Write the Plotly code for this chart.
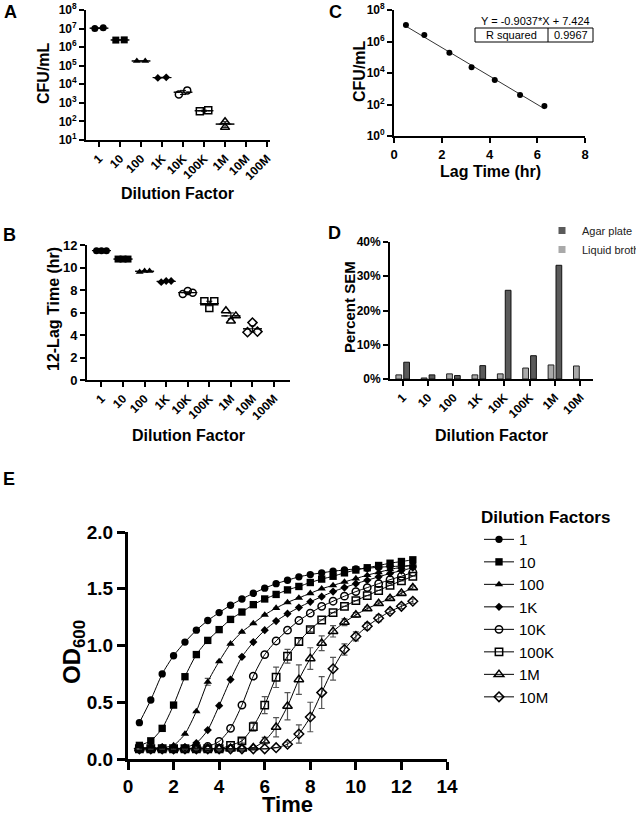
import numpy as np
import plotly.graph_objects as go

W, H = 636, 819
FONT = "Liberation Sans, Arial, Helvetica, sans-serif"

# ---------------- data ----------------
# Panel A : CFU/mL on agar plates (two replicate plates per dilution)
dilution_labels = ["1", "10", "100", "1K", "10K", "100K", "1M", "10M", "100M"]
cfu_rep1 = [1.0e7, 2.40e6, 1.78e5, 2.20e4, 2.8e3, 3.5e2, 96]
cfu_rep2 = [1.1e7, 2.46e6, 1.82e5, 2.38e4, 4.7e3, 4.0e2, 48]

# Panel B : 12 - lag time (three replicate wells per dilution)
lag12_rep1 = [11.5, 10.75, 9.6, 8.7, 7.65, 7.0, 6.15, 4.25]
lag12_rep2 = [11.5, 10.75, 9.7, 8.8, 7.9, 6.4, 5.25, 5.1]
lag12_rep3 = [11.5, 10.75, 9.7, 8.8, 7.75, 7.0, 5.7, 4.3]

# Panel C : CFU/mL vs lag time with log-linear fit
lag_time_hr = [0.5, 1.27, 2.32, 3.25, 4.22, 5.28, 6.3]
cfu_mean = [1.12e7, 2.57e6, 1.95e5, 2.29e4, 3.63e3, 398, 79]
fit_slope = -0.9037
fit_intercept = 7.424
r_squared = 0.9967

# Panel D : percent SEM
sem_labels = ["1", "10", "100", "1K", "10K", "100K", "1M", "10M"]
sem_agar = [4.9, 1.2, 1.0, 3.9, 25.9, 6.8, 33.2, None]
sem_broth = [1.2, 0.3, 1.5, 1.2, 1.5, 3.2, 4.1, 3.8]
sem_ticks = [0, 10, 20, 30, 40]

# Panel E : growth curves (OD600)
time_hr = [0.5, 1.0, 1.5, 2.0, 2.5, 3.0, 3.5, 4.0, 4.5, 5.0, 5.5, 6.0, 6.5,
           7.0, 7.5, 8.0, 8.5, 9.0, 9.5, 10.0, 10.5, 11.0, 11.5, 12.0, 12.5]
od_1 = [0.32, 0.52, 0.75, 0.91, 1.03, 1.135, 1.22, 1.29, 1.355, 1.41, 1.46, 1.505, 1.545,
        1.575, 1.605, 1.625, 1.64, 1.655, 1.665, 1.675, 1.68, 1.69, 1.695, 1.70, 1.705]
od_10 = [0.12, 0.16, 0.27, 0.475, 0.725, 0.92, 1.045, 1.14, 1.23, 1.295, 1.36, 1.41, 1.45,
         1.49, 1.52, 1.555, 1.585, 1.61, 1.64, 1.665, 1.685, 1.705, 1.725, 1.74, 1.755]
od_100 = [0.10, 0.10, 0.10, 0.12, 0.22, 0.42, 0.68, 0.86, 1.015, 1.12, 1.195, 1.27, 1.33,
          1.38, 1.42, 1.46, 1.50, 1.53, 1.56, 1.59, 1.62, 1.645, 1.67, 1.69, 1.71]
od_1K = [0.09, 0.09, 0.09, 0.09, 0.10, 0.14, 0.255, 0.47, 0.70, 0.90, 1.03, 1.135, 1.215,
         1.28, 1.335, 1.385, 1.43, 1.475, 1.51, 1.545, 1.575, 1.605, 1.635, 1.66, 1.685]
od_10K = [0.09, 0.09, 0.09, 0.09, 0.09, 0.10, 0.11, 0.155, 0.27, 0.475, 0.73, 0.92, 1.04,
          1.135, 1.22, 1.285, 1.345, 1.39, 1.435, 1.475, 1.51, 1.545, 1.58, 1.61, 1.645]
od_100K = [0.09, 0.09, 0.09, 0.09, 0.09, 0.09, 0.09, 0.09, 0.12, 0.16, 0.285, 0.475, 0.72,
           0.905, 1.035, 1.14, 1.225, 1.29, 1.345, 1.395, 1.44, 1.485, 1.53, 1.57, 1.61]
od_1M = [0.09, 0.09, 0.09, 0.09, 0.09, 0.09, 0.09, 0.09, 0.09, 0.09, 0.10, 0.16, 0.28,
         0.465, 0.70, 0.885, 1.02, 1.125, 1.205, 1.27, 1.325, 1.37, 1.415, 1.46, 1.51]
od_10M = [0.09, 0.09, 0.09, 0.09, 0.09, 0.09, 0.09, 0.09, 0.09, 0.09, 0.09, 0.09, 0.10,
          0.13, 0.22, 0.37, 0.585, 0.795, 0.965, 1.08, 1.17, 1.24, 1.30, 1.345, 1.39]
sem_od_100 = [0, 0, 0, 0, 0, 0, 0.03, 0, 0, 0, 0, 0, 0, 0, 0, 0, 0, 0, 0, 0, 0, 0, 0, 0, 0]
sem_od_100K = [0, 0, 0, 0, 0, 0, 0, 0, 0, 0.02, 0.04, 0.075, 0.09, 0.06, 0.03, 0.02, 0, 0, 0,
               0, 0, 0, 0, 0, 0]
sem_od_1M = [0, 0, 0, 0, 0, 0, 0, 0, 0, 0, 0, 0.03, 0.085, 0.12, 0.13, 0.095, 0.065, 0.05,
             0.03, 0.02, 0.015, 0.015, 0.015, 0.015, 0.015]
sem_od_10M = [0, 0, 0, 0, 0, 0, 0, 0, 0, 0, 0, 0, 0, 0.02, 0.08, 0.13, 0.14, 0.10, 0.05, 0.04,
              0.03, 0.03, 0.02, 0.02, 0.02]
curve_labels = ["1", "10", "100", "1K", "10K", "100K", "1M", "10M"]

# ---------------- styles ----------------
symbols = ["circle", "square", "triangle-up", "diamond",
           "circle-open", "square-open", "triangle-up-open", "diamond-open"]
sym_sizes = [7, 7, 7, 6, 7, 7, 8, 7]


def px_x(p):
    return p / W


def px_y(p):
    return 1 - p / H


def xd(a, b):
    return [px_x(a), px_x(b)]


def yd(top, bottom):
    return [px_y(bottom), px_y(top)]


def ax(lw=1.8, tl=5, tw=1.5, fs=12, **kw):
    d = dict(showline=True, linecolor="black", linewidth=lw, ticks="outside",
             ticklen=tl, tickwidth=tw, tickcolor="black", showgrid=False,
             zeroline=False, fixedrange=True, automargin=False,
             tickfont=dict(family=FONT, size=fs, color="black", weight="bold"))
    d.update(kw)
    return d


def marker_for(i, scale=1.0):
    open_ = "open" in symbols[i]
    return dict(symbol=symbols[i], size=sym_sizes[i] * scale, color="black",
                line=dict(color="black", width=1.5 if open_ else 0))


fig = go.Figure()

# ---------------- Panel A ----------------
for i in range(len(cfu_rep1)):
    vals = [cfu_rep1[i], cfu_rep2[i]]
    m = float(np.mean(vals))
    sem = float(np.std(vals, ddof=1) / np.sqrt(len(vals)))
    fig.add_trace(go.Scatter(
        x=[i - 0.3, i, i + 0.3], y=[m, m, m], mode="lines", xaxis="x", yaxis="y",
        line=dict(color="black", width=1), showlegend=False, hoverinfo="skip",
        error_y=dict(type="data", array=[0, sem, 0], color="black", thickness=1, width=3)))
    spread = abs(np.log10(vals[0]) - np.log10(vals[1]))
    offs = [-0.2, 0.2] if spread < 0.28 else [0.0, 0.0]
    fig.add_trace(go.Scatter(
        x=[i + o for o in offs], y=vals, mode="markers", xaxis="x", yaxis="y",
        marker=marker_for(i), showlegend=False))

# ---------------- Panel B ----------------
for i in range(len(lag12_rep1)):
    vals = [lag12_rep1[i], lag12_rep2[i], lag12_rep3[i]]
    m = float(np.mean(vals))
    sem = float(np.std(vals, ddof=1) / np.sqrt(len(vals)))
    fig.add_trace(go.Scatter(
        x=[i - 0.3, i, i + 0.3], y=[m, m, m], mode="lines", xaxis="x2", yaxis="y2",
        line=dict(color="black", width=1), showlegend=False, hoverinfo="skip",
        error_y=dict(type="data", array=[0, sem, 0], color="black", thickness=1, width=3)))
    fig.add_trace(go.Scatter(
        x=[i - 0.23, i, i + 0.23], y=vals, mode="markers", xaxis="x2", yaxis="y2",
        marker=marker_for(i), showlegend=False))

# ---------------- Panel C ----------------
fit_x = np.array([min(lag_time_hr), max(lag_time_hr)])
fit_y = 10 ** (fit_slope * fit_x + fit_intercept)
fig.add_trace(go.Scatter(x=fit_x, y=fit_y, mode="lines", xaxis="x3", yaxis="y3",
                         line=dict(color="#333333", width=1), showlegend=False))
fig.add_trace(go.Scatter(x=lag_time_hr, y=cfu_mean, mode="markers", xaxis="x3", yaxis="y3",
                         marker=dict(symbol="circle", size=6, color="black"),
                         showlegend=False))

# ---------------- Panel D ----------------
fig.add_trace(go.Bar(x=sem_labels, y=sem_broth, xaxis="x4", yaxis="y4", name="Liquid broth",
                     marker=dict(color="#a9a9a9", line=dict(color="#222222", width=1)),
                     showlegend=False))
fig.add_trace(go.Bar(x=sem_labels, y=sem_agar, xaxis="x4", yaxis="y4", name="Agar plate",
                     marker=dict(color="#5a5a5a", line=dict(color="#111111", width=1)),
                     showlegend=False))
fig.add_trace(go.Scatter(x=[None], y=[None], mode="markers", xaxis="x4", yaxis="y4",
                         name="Agar plate", legend="legend2",
                         marker=dict(symbol="square", size=7, color="#5a5a5a")))
fig.add_trace(go.Scatter(x=[None], y=[None], mode="markers", xaxis="x4", yaxis="y4",
                         name="Liquid broth", legend="legend2",
                         marker=dict(symbol="square", size=7, color="#a9a9a9")))

# ---------------- Panel E ----------------
curves = [od_1, od_10, od_100, od_1K, od_10K, od_100K, od_1M, od_10M]
curve_sems = [None, None, sem_od_100, None, None, sem_od_100K, sem_od_1M, sem_od_10M]
for i, (lab, od, se) in enumerate(zip(curve_labels, curves, curve_sems)):
    err = None
    if se is not None:
        err = dict(type="data", array=se, color="#555555", thickness=1.2, width=3)
    fig.add_trace(go.Scatter(
        x=time_hr, y=od, mode="lines+markers", xaxis="x5", yaxis="y5", name=lab,
        legend="legend", line=dict(color="black", width=1, shape="spline", smoothing=0.6),
        marker=marker_for(i, 1.05), error_y=err))

# ---------------- layout ----------------
sup = lambda k: "10<sup>%d</sup>" % k
layout = dict(
    width=W, height=H, margin=dict(l=0, r=0, t=0, b=0, autoexpand=False),
    paper_bgcolor="white", plot_bgcolor="white",
    font=dict(family=FONT, color="black"),
    barmode="group", bargap=0.38, bargroupgap=0.27,
    xaxis=ax(domain=xd(86, 270), anchor="y", range=[-0.62, 8.14],
             tickvals=list(range(len(dilution_labels))), ticktext=dilution_labels,
             tickangle=-45),
    yaxis=ax(domain=yd(10, 140), anchor="x", type="log", range=[1, 8], fs=12,
             tickvals=[10 ** k for k in range(1, 9)], ticktext=[sup(k) for k in range(1, 9)]),
    xaxis2=ax(domain=xd(87, 290), anchor="y2", range=[-0.67, 8.74],
              tickvals=list(range(len(dilution_labels))), ticktext=dilution_labels,
              tickangle=-45),
    yaxis2=ax(domain=yd(245, 380), anchor="x2", range=[0, 12], dtick=2, fs=13),
    xaxis3=ax(domain=xd(394, 585), anchor="y3", range=[0, 8], dtick=2, fs=13),
    yaxis3=ax(domain=yd(10, 136), anchor="x3", type="log", range=[0, 8],
              tickvals=[10 ** k for k in range(0, 9, 2)],
              ticktext=[sup(k) for k in range(0, 9, 2)]),
    xaxis4=ax(domain=xd(390, 593), anchor="y4", type="category",
              categoryarray=sem_labels, range=[-0.5, 7.5], tickangle=-45),
    yaxis4=ax(domain=yd(242, 379), anchor="x4", range=[0, 40],
              tickvals=sem_ticks, ticktext=["%d%%" % v for v in sem_ticks]),
    xaxis5=ax(lw=3, tl=8, tw=2.5, fs=19, domain=xd(128, 447), anchor="y5",
              range=[0, 14], dtick=2),
    yaxis5=ax(lw=3, tl=8, tw=2.5, fs=19, domain=yd(532, 759), anchor="x5",
              range=[0, 2], dtick=0.5, tickformat=".1f"),
    legend=dict(x=px_x(479), y=px_y(501), xanchor="left", yanchor="top",
                bgcolor="rgba(0,0,0,0)", tracegroupgap=0,
                font=dict(family=FONT, size=15, color="black"),
                title=dict(text="Dilution Factors",
                           font=dict(family=FONT, size=17, color="black", weight="bold"))),
    legend2=dict(x=px_x(542), y=px_y(216), xanchor="left", yanchor="top",
                 bgcolor="rgba(0,0,0,0)",
                 font=dict(family=FONT, size=11, color="#222222")),
)
fig.update_layout(**layout)


def ann(text, x, y, size, angle=0, bold=True, yanchor="middle"):
    fig.add_annotation(text=text, x=px_x(x), y=px_y(y), xref="paper", yref="paper",
                       showarrow=False, textangle=angle, xanchor="center", yanchor=yanchor,
                       font=dict(family=FONT, size=size, color="black",
                                 weight="bold" if bold else "normal"))


# panel letters
for letter, px, py in [("A", 10, 12), ("B", 9, 235), ("C", 335, 12), ("D", 334, 233), ("E", 9, 479)]:
    ann(letter, px, py, 18)

# axis titles
ann("Dilution Factor", 177, 193, 16)
ann("CFU/mL", 43, 73, 16, -90)
ann("Dilution Factor", 188, 435, 16)
ann("12-Lag Time (hr)", 53, 309, 16, -90)
ann("Lag Time (hr)", 490, 171, 16)
ann("CFU/mL", 359, 71, 16, -90)
ann("Dilution Factor", 491, 435, 16)
ann("Percent SEM", 349, 307, 15, -90)
ann("Time", 287, 819, 22, yanchor="bottom")
ann("OD<sub>600</sub>", 73, 652, 24, -90)

# fit equation and R squared table in panel C
ann("Y = %.4f*X + %.3f" % (fit_slope, fit_intercept), 535, 21, 11, bold=False)
ann("R squared", 511, 35.5, 11, bold=False)
ann("%.4f" % r_squared, 571, 35.5, 11, bold=False)
fig.add_shape(type="rect", xref="paper", yref="paper", x0=px_x(475), x1=px_x(593),
              y0=px_y(42), y1=px_y(28), line=dict(color="black", width=1))
fig.add_shape(type="line", xref="paper", yref="paper", x0=px_x(548), x1=px_x(548),
              y0=px_y(42), y1=px_y(28), line=dict(color="black", width=1))

fig.write_html("out.html")
